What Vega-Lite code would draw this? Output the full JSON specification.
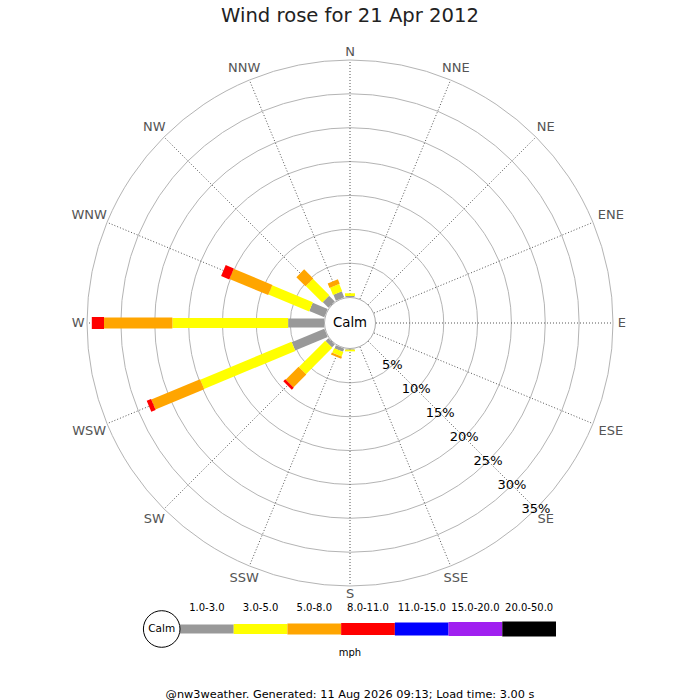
{
  "$schema": "https://vega.github.io/schema/vega-lite/v6.json",
  "description": "Wind rose for 21 Apr 2012: share of the day's wind by direction and speed band (mph).",
  "padding": {"top": 5, "left": 0, "right": 0, "bottom": 0},
  "spacing": 0,
  "bounds": "flush",
  "config": {
    "view": {"stroke": null},
    "font": "DejaVu Sans",
    "title": {"font": "DejaVu Sans", "fontWeight": "normal"}
  },
  "title": {
    "text": "@nw3weather. Generated: 11 Aug 2026 09:13; Load time: 3.00 s",
    "orient": "bottom",
    "fontSize": 11.3,
    "color": "#000",
    "offset": 30.5,
    "anchor": "middle",
    "frame": "group"
  },
  "datasets": {
    "dirs": [
      {"dir": "N", "deg": 0}, {"dir": "NNE", "deg": 22.5}, {"dir": "NE", "deg": 45}, {"dir": "ENE", "deg": 67.5},
      {"dir": "E", "deg": 90}, {"dir": "ESE", "deg": 112.5}, {"dir": "SE", "deg": 135}, {"dir": "SSE", "deg": 157.5},
      {"dir": "S", "deg": 180}, {"dir": "SSW", "deg": 202.5}, {"dir": "SW", "deg": 225}, {"dir": "WSW", "deg": 247.5},
      {"dir": "W", "deg": 270}, {"dir": "WNW", "deg": 292.5}, {"dir": "NW", "deg": 315}, {"dir": "NNW", "deg": 337.5}
    ],
    "rings": [{"pct": 5}, {"pct": 10}, {"pct": 15}, {"pct": 20}, {"pct": 25}, {"pct": 30}, {"pct": 35}],
    "wind": [
      {"dir": "N", "deg": 0, "bin": "1.0-3.0", "pct": 0.15},
      {"dir": "N", "deg": 0, "bin": "3.0-5.0", "pct": 0.4},
      {"dir": "NNW", "deg": 337.5, "bin": "1.0-3.0", "pct": 0.95},
      {"dir": "NNW", "deg": 337.5, "bin": "3.0-5.0", "pct": 1.15},
      {"dir": "NNW", "deg": 337.5, "bin": "5.0-8.0", "pct": 0.7},
      {"dir": "NW", "deg": 315, "bin": "1.0-3.0", "pct": 1.2},
      {"dir": "NW", "deg": 315, "bin": "3.0-5.0", "pct": 3.45},
      {"dir": "NW", "deg": 315, "bin": "5.0-8.0", "pct": 1.9},
      {"dir": "WNW", "deg": 292.5, "bin": "1.0-3.0", "pct": 2.4},
      {"dir": "WNW", "deg": 292.5, "bin": "3.0-5.0", "pct": 6.5},
      {"dir": "WNW", "deg": 292.5, "bin": "5.0-8.0", "pct": 6.2},
      {"dir": "WNW", "deg": 292.5, "bin": "8.0-11.0", "pct": 1.3},
      {"dir": "W", "deg": 270, "bin": "1.0-3.0", "pct": 5.3},
      {"dir": "W", "deg": 270, "bin": "3.0-5.0", "pct": 17.1},
      {"dir": "W", "deg": 270, "bin": "5.0-8.0", "pct": 10.1},
      {"dir": "W", "deg": 270, "bin": "8.0-11.0", "pct": 1.8},
      {"dir": "WSW", "deg": 247.5, "bin": "1.0-3.0", "pct": 5.2},
      {"dir": "WSW", "deg": 247.5, "bin": "3.0-5.0", "pct": 14.6},
      {"dir": "WSW", "deg": 247.5, "bin": "5.0-8.0", "pct": 7.8},
      {"dir": "WSW", "deg": 247.5, "bin": "8.0-11.0", "pct": 0.7},
      {"dir": "SW", "deg": 225, "bin": "1.0-3.0", "pct": 0.6},
      {"dir": "SW", "deg": 225, "bin": "3.0-5.0", "pct": 5.5},
      {"dir": "SW", "deg": 225, "bin": "5.0-8.0", "pct": 2.7},
      {"dir": "SW", "deg": 225, "bin": "8.0-11.0", "pct": 0.4},
      {"dir": "SSW", "deg": 202.5, "bin": "1.0-3.0", "pct": 0.5},
      {"dir": "SSW", "deg": 202.5, "bin": "3.0-5.0", "pct": 0.7},
      {"dir": "SSW", "deg": 202.5, "bin": "5.0-8.0", "pct": 0.35},
      {"dir": "S", "deg": 180, "bin": "1.0-3.0", "pct": 0.1},
      {"dir": "S", "deg": 180, "bin": "3.0-5.0", "pct": 0.25}
    ],
    "bins": [
      {"bin": "1.0-3.0"}, {"bin": "3.0-5.0"}, {"bin": "5.0-8.0"}, {"bin": "8.0-11.0"},
      {"bin": "11.0-15.0"}, {"bin": "15.0-20.0"}, {"bin": "20.0-50.0"}
    ]
  },
  "vconcat": [
    {
      "width": 700,
      "height": 580,
      "title": {
        "text": "Wind rose for 21 Apr 2012",
        "fontSize": 19.6,
        "color": "#222",
        "anchor": "middle",
        "offset": 8.5,
        "frame": "group"
      },
      "layer": [
        {
          "data": {"name": "rings"},
          "transform": [{"calculate": "datum.pct + 3.84", "as": "rr"}],
          "mark": {"type": "point", "shape": "circle", "filled": false, "color": "#b4b4b4", "strokeWidth": 1, "opacity": 1},
          "encoding": {
            "x": {"datum": 0, "type": "quantitative", "scale": {"domain": [-51.7, 51.7], "nice": false, "zero": false}, "axis": null},
            "y": {"datum": 0, "type": "quantitative", "scale": {"domain": [-43.125, 42.535], "nice": false, "zero": false}, "axis": null},
            "size": {"field": "rr", "type": "quantitative", "scale": {"type": "pow", "exponent": 2, "domain": [0, 38.84], "range": [0, 276676]}, "legend": null}
          }
        },
        {
          "data": {"name": "dirs"},
          "transform": [
            {"calculate": "datum.deg * PI / 180", "as": "a"},
            {"calculate": "3.84 * sin(datum.a)", "as": "x0"},
            {"calculate": "3.84 * cos(datum.a)", "as": "y0"},
            {"calculate": "38.84 * sin(datum.a)", "as": "x1"},
            {"calculate": "38.84 * cos(datum.a)", "as": "y1"}
          ],
          "mark": {"type": "rule", "color": "#555", "strokeWidth": 1, "strokeDash": [1, 2]},
          "encoding": {
            "x": {"field": "x0", "type": "quantitative"},
            "y": {"field": "y0", "type": "quantitative"},
            "x2": {"field": "x1"},
            "y2": {"field": "y1"}
          }
        },
        {
          "data": {"name": "wind"},
          "transform": [
            {"stack": "pct", "groupby": ["dir"], "sort": [{"field": "bin", "order": "ascending"}], "as": ["p0", "p1"]},
            {"calculate": "datum.deg * PI / 180", "as": "a"},
            {"calculate": "(3.84 + datum.p0) * sin(datum.a)", "as": "x0"},
            {"calculate": "(3.84 + datum.p0) * cos(datum.a)", "as": "y0"},
            {"calculate": "(3.84 + datum.p1) * sin(datum.a)", "as": "x1"},
            {"calculate": "(3.84 + datum.p1) * cos(datum.a)", "as": "y1"}
          ],
          "mark": {"type": "rule", "strokeCap": "butt", "opacity": 1},
          "encoding": {
            "x": {"field": "x0", "type": "quantitative"},
            "y": {"field": "y0", "type": "quantitative"},
            "x2": {"field": "x1"},
            "y2": {"field": "y1"},
            "color": {
              "field": "bin", "type": "ordinal",
              "scale": {
                "domain": ["1.0-3.0", "3.0-5.0", "5.0-8.0", "8.0-11.0", "11.0-15.0", "15.0-20.0", "20.0-50.0"],
                "range": ["#999999", "#ffff00", "#ffa500", "#ff0000", "#0000ff", "#a020f0", "#000000"]
              },
              "legend": null
            },
            "strokeWidth": {
              "field": "bin", "type": "ordinal",
              "scale": {
                "domain": ["1.0-3.0", "3.0-5.0", "5.0-8.0", "8.0-11.0", "11.0-15.0", "15.0-20.0", "20.0-50.0"],
                "range": [9, 15, 20, 23, 25, 27, 28]
              },
              "legend": null
            }
          }
        },
        {
          "data": {"values": [{"label": "Calm"}]},
          "mark": {"type": "point", "shape": "circle", "size": 2601, "filled": true, "fill": "#ffffff", "stroke": "#aaaaaa", "strokeWidth": 1, "opacity": 1},
          "encoding": {
            "x": {"datum": 0, "type": "quantitative"},
            "y": {"datum": 0, "type": "quantitative"}
          }
        },
        {
          "data": {"values": [{"label": "Calm"}]},
          "mark": {"type": "text", "fontSize": 13.3, "color": "#000", "align": "center", "baseline": "middle"},
          "encoding": {
            "x": {"datum": 0, "type": "quantitative"},
            "y": {"datum": 0, "type": "quantitative"},
            "text": {"field": "label"}
          }
        },
        {
          "data": {"name": "dirs"},
          "transform": [
            {"calculate": "datum.deg * PI / 180", "as": "a"},
            {"calculate": "(267 + 5 * length(datum.dir) * abs(sin(datum.a)) + 4 * abs(cos(datum.a))) / 6.771", "as": "r"},
            {"calculate": "datum.r * sin(datum.a)", "as": "lx"},
            {"calculate": "datum.r * cos(datum.a)", "as": "ly"}
          ],
          "mark": {"type": "text", "fontSize": 13, "color": "#555", "align": "center", "baseline": "middle"},
          "encoding": {
            "x": {"field": "lx", "type": "quantitative"},
            "y": {"field": "ly", "type": "quantitative"},
            "text": {"field": "dir"}
          }
        },
        {
          "data": {"name": "rings"},
          "transform": [
            {"calculate": "(3.84 + datum.pct) * sin(3 * PI / 4)", "as": "lx"},
            {"calculate": "(3.84 + datum.pct) * cos(3 * PI / 4)", "as": "ly"},
            {"calculate": "datum.pct + '%'", "as": "label"}
          ],
          "mark": {"type": "text", "fontSize": 13, "color": "#000", "align": "center", "baseline": "middle"},
          "encoding": {
            "x": {"field": "lx", "type": "quantitative"},
            "y": {"field": "ly", "type": "quantitative"},
            "text": {"field": "label"}
          }
        }
      ]
    },
    {
      "width": 700,
      "height": 28,
      "data": {"name": "bins"},
      "title": {
        "text": "mph",
        "orient": "bottom",
        "fontSize": 10,
        "color": "#000",
        "offset": -1,
        "anchor": "middle",
        "frame": "group"
      },
      "layer": [
        {
          "mark": {"type": "rule", "strokeCap": "butt", "opacity": 1},
          "encoding": {
            "x": {
              "field": "bin", "type": "nominal", "bandPosition": 0,
              "scale": {
                "type": "band",
                "domain": ["1.0-3.0", "3.0-5.0", "5.0-8.0", "8.0-11.0", "11.0-15.0", "15.0-20.0", "20.0-50.0"],
                "range": [180, 556],
                "paddingInner": 0,
                "paddingOuter": 0
              },
              "axis": {"orient": "top", "title": null, "ticks": false, "domain": false, "grid": false, "labelAngle": 0, "labelFontSize": 10, "labelPadding": 3, "labelColor": "#000"}
            },
            "x2": {"field": "bin", "bandPosition": 1},
            "y": {"datum": 0, "type": "quantitative", "scale": {"domain": [-1, 1]}, "axis": null},
            "color": {
              "field": "bin", "type": "ordinal",
              "scale": {
                "domain": ["1.0-3.0", "3.0-5.0", "5.0-8.0", "8.0-11.0", "11.0-15.0", "15.0-20.0", "20.0-50.0"],
                "range": ["#999999", "#ffff00", "#ffa500", "#ff0000", "#0000ff", "#a020f0", "#000000"]
              },
              "legend": null
            },
            "strokeWidth": {
              "field": "bin", "type": "ordinal",
              "scale": {
                "domain": ["1.0-3.0", "3.0-5.0", "5.0-8.0", "8.0-11.0", "11.0-15.0", "15.0-20.0", "20.0-50.0"],
                "range": [9, 15, 20, 23, 25, 27, 28]
              },
              "legend": null
            }
          }
        },
        {
          "data": {"values": [{"label": "Calm"}]},
          "mark": {"type": "point", "shape": "circle", "size": 1340, "filled": true, "fill": "#ffffff", "stroke": "#000", "strokeWidth": 1, "opacity": 1, "xOffset": -18.3},
          "encoding": {
            "x": {"datum": "1.0-3.0", "type": "nominal", "bandPosition": 0},
            "y": {"datum": 0, "type": "quantitative"}
          }
        },
        {
          "data": {"values": [{"label": "Calm"}]},
          "mark": {"type": "text", "fontSize": 10.5, "color": "#000", "align": "center", "baseline": "middle", "xOffset": -18.3},
          "encoding": {
            "x": {"datum": "1.0-3.0", "type": "nominal", "bandPosition": 0},
            "y": {"datum": 0, "type": "quantitative"},
            "text": {"field": "label"}
          }
        }
      ]
    }
  ]
}
